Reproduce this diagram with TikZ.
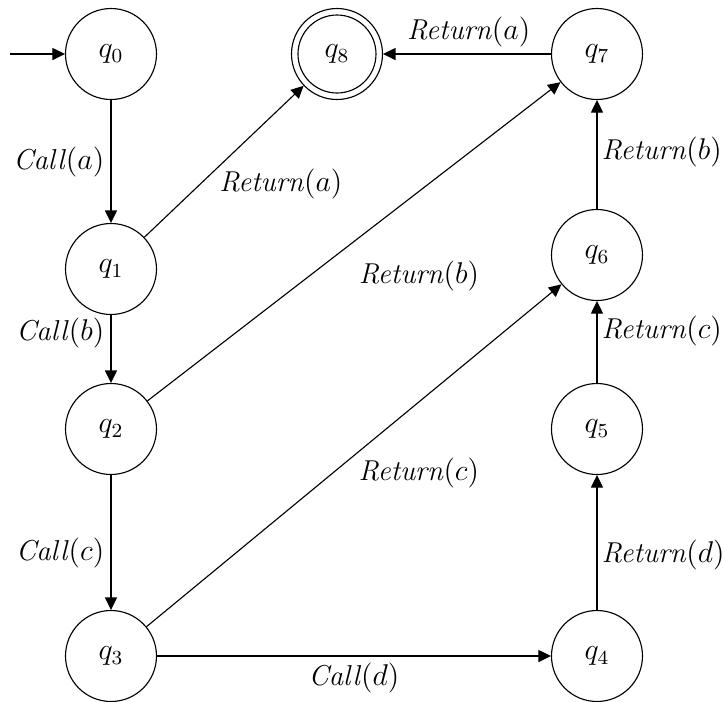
\documentclass[tikz,border=0pt]{standalone}
\usetikzlibrary{arrows.meta}
\begin{document}
\begin{tikzpicture}[x=0.4pt,y=-0.4pt,
  line width=0.45pt,
  state/.style={circle,draw,minimum size=36.4pt,inner sep=0pt,font=\fontsize{11.5pt}{13pt}\selectfont},
  lbl/.style={font=\fontsize{11.5pt}{14pt}\selectfont,inner sep=2.5pt},
  rlbl/.style={lbl,inner sep=1.6pt},
  arr/.style={-{Triangle[length=5pt,width=4.8pt]}}]
\useasboundingbox (0,0) rectangle (723,702);
\node[state] (q0) at (111,54) {$q_0$};
\node[state] (q1) at (111,269) {$q_1$};
\node[state] (q2) at (111,429) {$q_2$};
\node[state] (q3) at (111,656) {$q_3$};
\node[state] (q4) at (597,656) {$q_4$};
\node[state] (q5) at (597,429) {$q_5$};
\node[state] (q6) at (597,255) {$q_6$};
\node[state] (q7) at (597,54) {$q_7$};
\node[state] (q8) at (337,54) {$q_8$};
\draw (q8.center) circle[radius=15.6pt];
\coordinate (start) at (10,54);
\draw[arr] (start) -- (q0);
\draw[arr] (q0) -- node[lbl,pos=0.5,left] {\textit{Call}$(a)$} (q1);
\draw[arr] (q1) -- node[lbl,pos=0.27,left] {\textit{Call}$(b)$} (q2);
\draw[arr] (q2) -- node[lbl,pos=0.58,left] {\textit{Call}$(c)$} (q3);
\draw[arr] (q3) -- node[lbl,pos=0.5,below] {\textit{Call}$(d)$} (q4);
\draw[arr] (q4) -- node[rlbl,pos=0.41,right] {\textit{Return}$(d)$} (q5);
\draw[arr] (q5) -- node[rlbl,pos=0.63,right] {\textit{Return}$(c)$} (q6);
\draw[arr] (q6) -- node[rlbl,pos=0.52,right] {\textit{Return}$(b)$} (q7);
\draw[arr] (q7) -- node[lbl,pos=0.49,above] {\textit{Return}$(a)$} (q8);
\draw[arr] (q1) -- node[lbl,pos=0.617,xshift=15.3pt,yshift=-16.1pt] {\textit{Return}$(a)$} (q8);
\draw[arr] (q2) -- node[lbl,pos=0.558,xshift=16.4pt,yshift=-21.2pt] {\textit{Return}$(b)$} (q7);
\draw[arr] (q3) -- node[lbl,pos=0.572,xshift=14.0pt,yshift=-16.9pt] {\textit{Return}$(c)$} (q6);
\end{tikzpicture}
\end{document}
